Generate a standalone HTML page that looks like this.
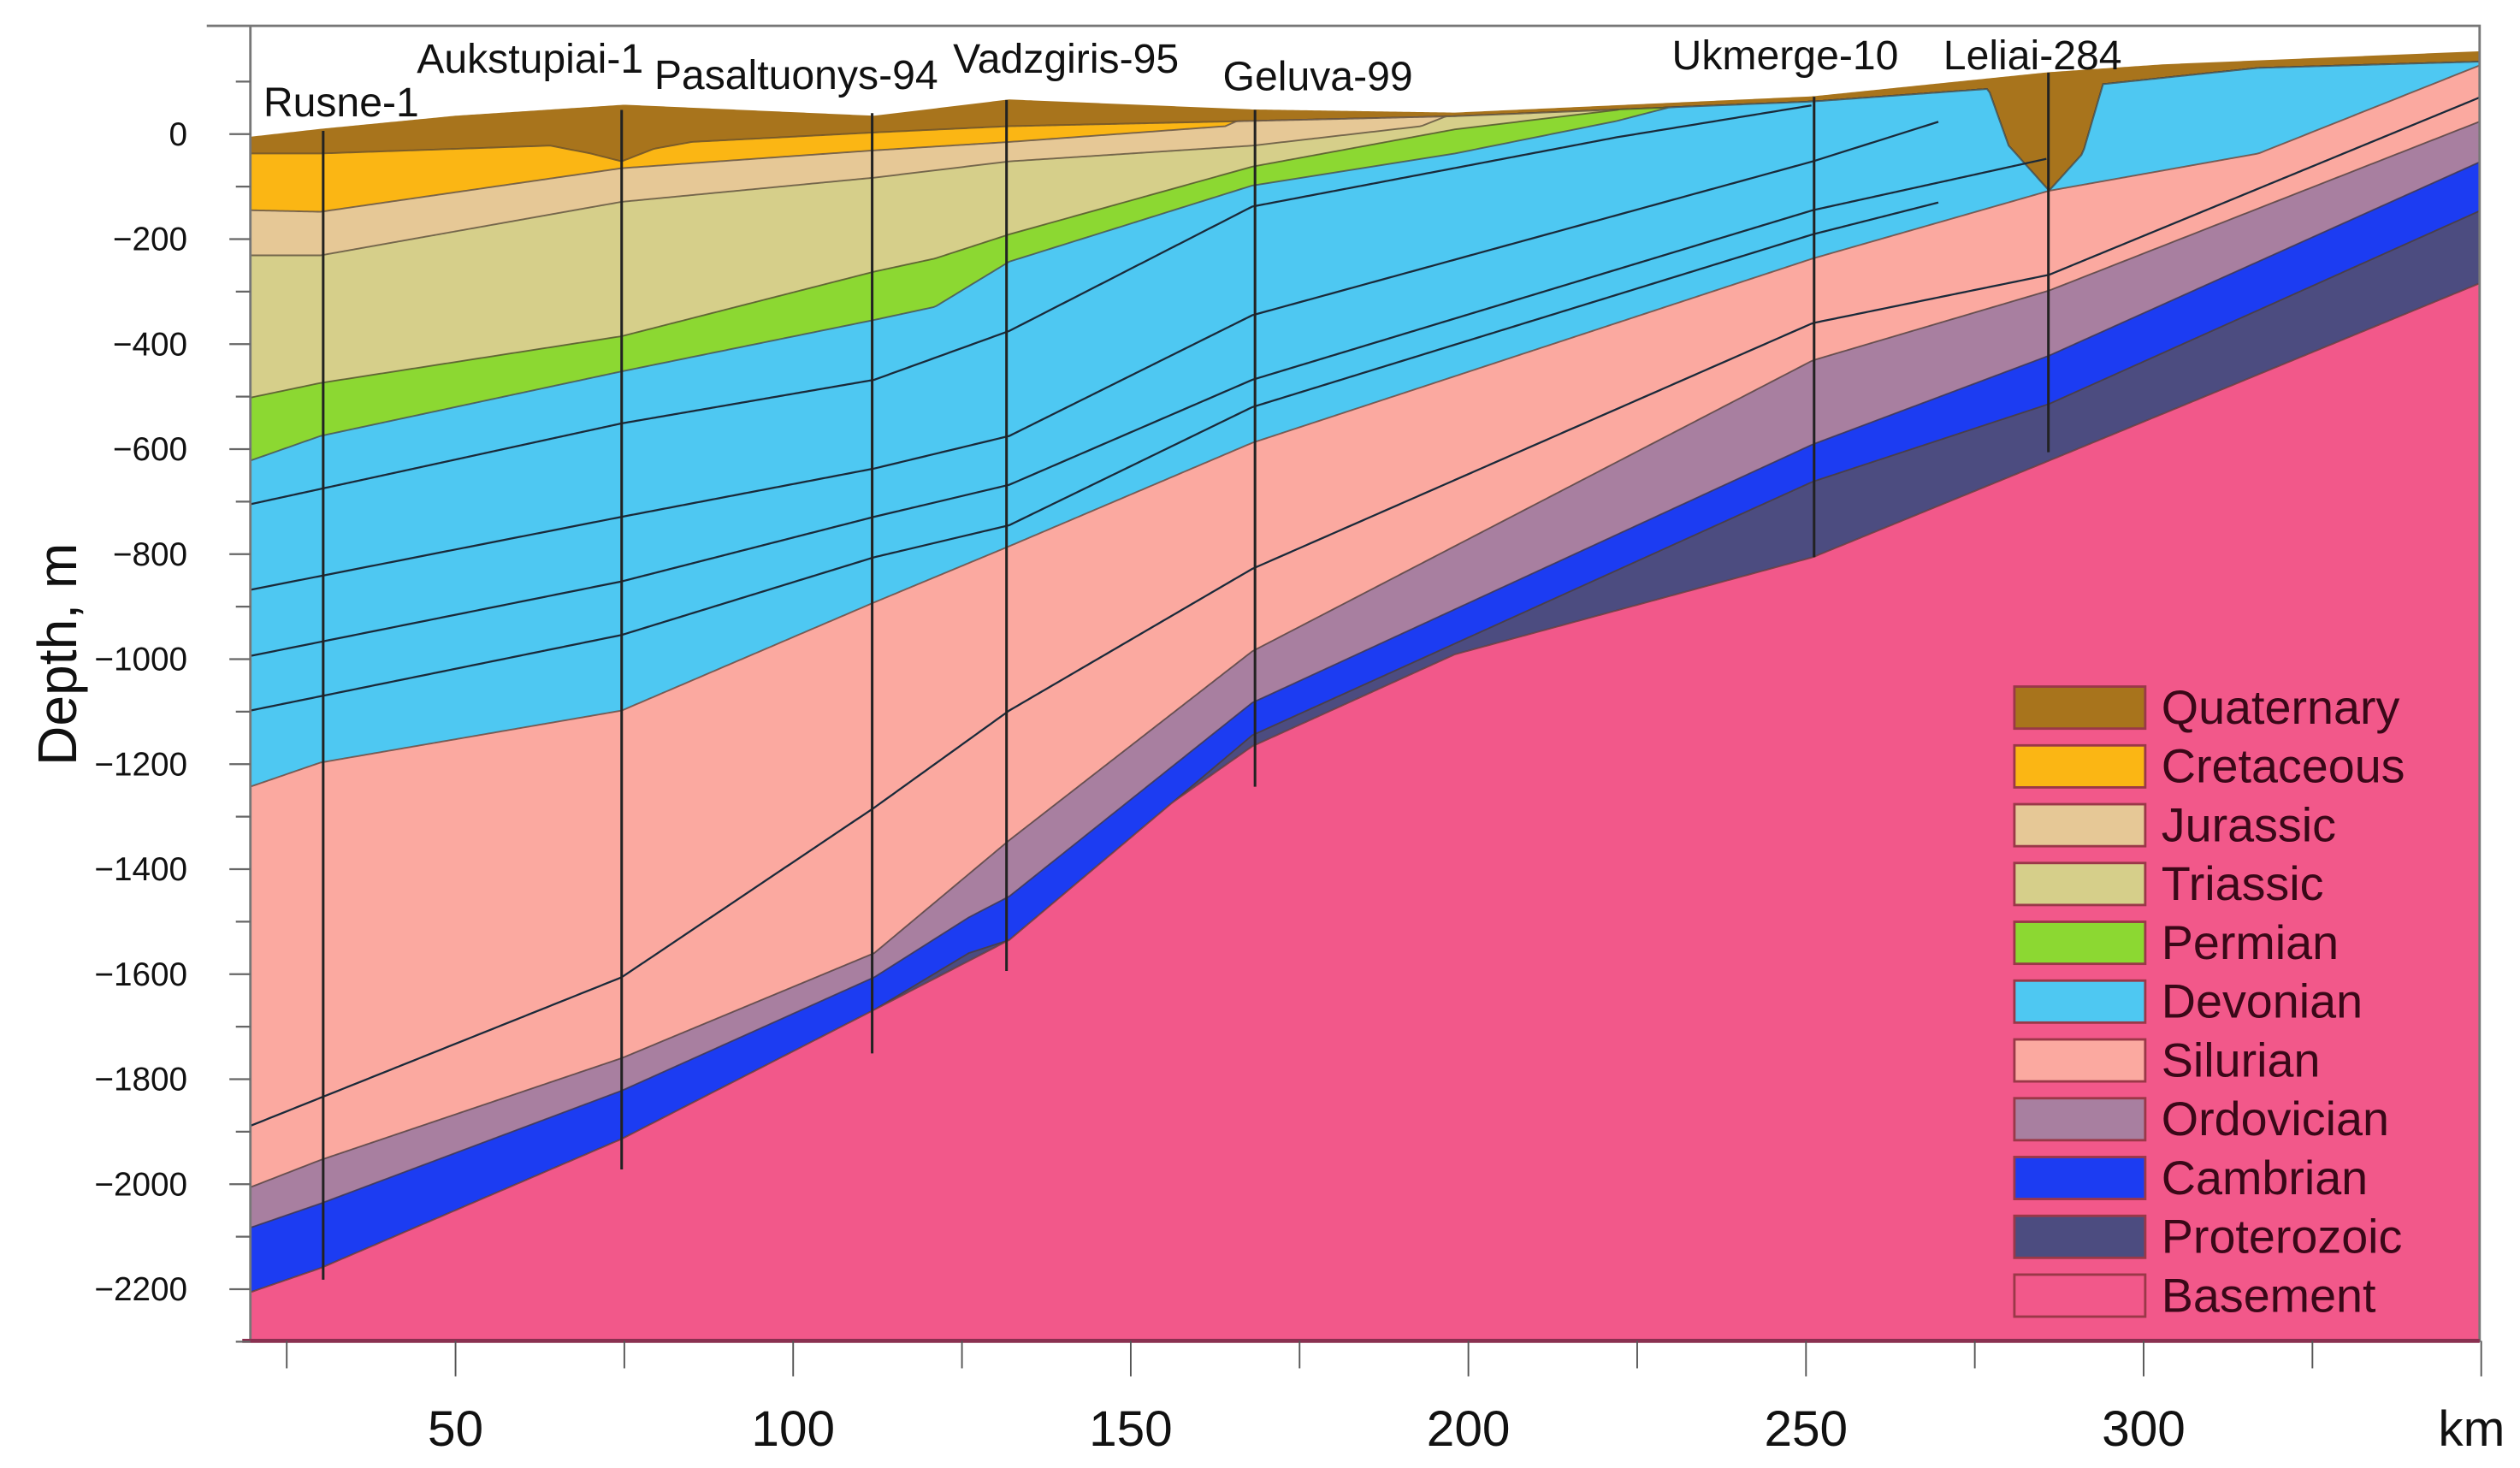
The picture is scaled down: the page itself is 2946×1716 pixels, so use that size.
<!DOCTYPE html>
<html><head><meta charset="utf-8"><style>
html,body{margin:0;padding:0;background:#fff;}
svg{display:block;}
text{font-family:"Liberation Sans",Arial,sans-serif;}
</style></head><body>
<svg id="chart" width="2946" height="1716" viewBox="0 0 1560 908.7" preserveAspectRatio="none" xmlns="http://www.w3.org/2000/svg">
<g id="layers"></g>
<g id="lines"></g>
<g id="wells"></g>
<g id="axes"></g>
<g id="legend"></g>
</svg>
<script>
// ---- data ----
const layerNames = ["Quaternary","Cretaceous","Jurassic","Triassic","Permian","Devonian","Silurian","Ordovician","Cambrian","Proterozoic","Basement"];
const layerColors = ["#a8741c","#fbb614","#e6c896","#d6cf8a","#8cd832","#4ec8f2","#fba9a0","#a87fa0","#1c3cf2","#4c4c80","#f2588a"];
// top boundary of each layer: km positions and depth (m)
const topKm = [
 [19.6,30,50,75,112,132,168,198,251,286,303,350],
 [19.6,30,64,70,74.6,79.4,85,112,132,168,198,251,277,280,286,291,294,317,350],
 [19.6,30,74.6,112,132,164,174,350],
 [19.6,30,74.6,112,132,168,193,210,350],
 [19.6,30,74.6,112,121,132,168,198,222,234,350],
 [19.6,30,74.6,112,121,132,168,198,222,234,350],
 [19.6,30,74.6,112,132,168,251,286,317,350],
 [19.6,30,74.6,112,132,168,251,286,350],
 [19.6,30,74.6,112,126,132,168,251,286,350],
 [19.6,30,74.6,112,126,132,168,251,286,350],
 [19.6,30,74.6,112,132,150,168,198,251,286,350]
];
const topDepth = [
 [-6,9,34,55,34,65,46,40,71,117,132,157],
 [-37,-37,-22,-37,-52,-28,-15,3,15,25,34,62,86,-22,-108,-37,95,126,138],
 [-145,-148,-65,-31,-15,15,71,500],
 [-231,-231,-129,-83,-52,-22,15,102,500],
 [-502,-474,-385,-262,-237,-191,-62,9,46,86,500],
 [-622,-575,-452,-354,-329,-243,-98,-37,25,65,500],
 [-1243,-1197,-1098,-892,-785,-588,-237,-108,-37,132],
 [-2006,-1954,-1760,-1560,-1345,-985,-431,-298,25],
 [-2083,-2037,-1822,-1606,-1492,-1452,-1083,-591,-422,-52],
 [-2206,-2160,-1914,-1668,-1560,-1535,-1145,-662,-514,-145],
 [-2206,-2160,-1914,-1668,-1535,-1329,-1166,-991,-806,-622,-283]
];
// internal horizons
const lineKm = [
 [19.6,74.6,112,132,168,222,251],
 [19.6,74.6,112,132,168,251,270],
 [19.6,74.6,112,132,168,251,286],
 [19.6,74.6,112,132,168,251,270],
 [19.6,74.6,112,132,168,251,286,350]
];
const lineDepth = [
 [-705,-551,-468,-375,-138,-6,55],
 [-868,-729,-637,-575,-345,-52,25],
 [-994,-852,-729,-668,-468,-145,-46],
 [-1098,-954,-806,-745,-520,-191,-129],
 [-1889,-1606,-1283,-1098,-828,-360,-268,71]
];
const wellNames = ["Rusne-1","Aukstupiai-1","Pasaltuonys-94","Vadzgiris-95","Geluva-99","Ukmerge-10","Leliai-284"];
const wellKm = [30.4,74.6,111.7,131.6,168.4,251.2,285.9];
const wellTop = [6,46,40,65,46,71,117];
const wellBottom = [-2182,-1972,-1751,-1594,-1243,-806,-606];
const yTicks = [0,-200,-400,-600,-800,-1000,-1200,-1400,-1600,-1800,-2000,-2200];
const xTicks = [50,100,150,200,250,300];
// ---- scales ----
const KM0=19.6, KM1=349.8, DBOT=-2298;
const X = km => 282 + (km-50)*4.18;
const Y = d => 83 - d*0.325;
const NS="http://www.w3.org/2000/svg";
function mk(tag, attrs, parent){const e=document.createElementNS(NS,tag);for(const k in attrs)e.setAttribute(k,attrs[k]);parent.appendChild(e);return e;}
function interp(xs,ys,x){if(x<=xs[0])return ys[0];if(x>=xs[xs.length-1])return ys[ys.length-1];
 for(let i=1;i<xs.length;i++){if(x<=xs[i]){const t=(x-xs[i-1])/(xs[i]-xs[i-1]);return ys[i-1]+t*(ys[i]-ys[i-1]);}}}
const grid=[];for(let k=KM0;k<KM1;k+=0.4)grid.push(k);grid.push(KM1);
const B=topKm.map((xs,i)=>grid.map(g=>interp(xs,topDepth[i],g)));
for(let i=1;i<B.length;i++)for(let j=0;j<grid.length;j++)B[i][j]=Math.min(B[i][j],B[i-1][j]);
const gL=document.getElementById('layers');
for(let i=0;i<B.length;i++){
 const top=B[i], bot=(i+1<B.length)?B[i+1]:grid.map(()=>DBOT);
 let d="M"+grid.map((g,j)=>X(g).toFixed(2)+","+Y(top[j]).toFixed(2)).join("L");
 for(let j=grid.length-1;j>=0;j--)d+="L"+X(grid[j]).toFixed(2)+","+Y(bot[j]).toFixed(2);
 d+="Z";
 const p=mk('path',{d:d,fill:layerColors[i],stroke:layerColors[i],'stroke-width':0.6},gL);
 
 
 if(i>0){const bl=mk('path',{d:"M"+grid.map((g,j)=>X(g).toFixed(2)+","+Y(top[j]).toFixed(2)).join("L"),fill:"none",stroke:"#4a3a30",'stroke-width':1,'stroke-opacity':0.7},gL);
 
 }
}
const gLn=document.getElementById('lines');
lineKm.forEach((xs,i)=>{
 const g2=grid.filter(g=>g>=xs[0]&&g<=xs[xs.length-1]);
 const p=mk('path',{d:"M"+g2.map(g=>X(g).toFixed(2)+","+Y(interp(xs,lineDepth[i],g)).toFixed(2)).join("L"),fill:"none",stroke:"#1a2a3a",'stroke-width':1.2},gLn);
 
 
});
const gW=document.getElementById('wells');
const labelPos=[[163,72],[258,45],[405,55],[590,45],[757,56],[1035,43],[1203,43]];
wellNames.forEach((n,i)=>{
 const l=mk('line',{x1:X(wellKm[i]),x2:X(wellKm[i]),y1:Y(wellTop[i]),y2:Y(wellBottom[i]),stroke:"#222",'stroke-width':1.6},gW);
 
 
 const t=mk('text',{x:labelPos[i][0],y:labelPos[i][1],'font-size':25.5,fill:"#111"},gW);
 t.textContent=n;
 
 
});
const gA=document.getElementById('axes');
const fr=mk('path',{d:"M128,16H1535V830H155V16",fill:"none",stroke:"#777",'stroke-width':1.5},gA);


const bl=mk('line',{x1:150,x2:1535,y1:830,y2:830,stroke:"#8a3050",'stroke-width':2.5},gA);


for(let d=100;d>=-2300;d-=100){
 const major=d%200===0;
 const t=mk('line',{x1:major?142:146,x2:155,y1:Y(d),y2:Y(d),stroke:"#666",'stroke-width':1.2},gA);
 
 
}
yTicks.forEach(v=>{
 const t=mk('text',{x:116,y:Y(v)+7,'font-size':20.5,'text-anchor':'end',fill:"#111"},gA);
 t.textContent=v===0?"0":"\u2212"+Math.abs(v);
 
 
});
for(let k=25;k<=350;k+=25){
 const major=k%50===0;
 const t=mk('line',{x1:X(k),x2:X(k),y1:830,y2:major?852:847,stroke:"#555",'stroke-width':1},gA);
 
 
}
xTicks.forEach(v=>{
 const t=mk('text',{x:X(v),y:895,'font-size':31,'text-anchor':'middle',fill:"#111"},gA);
 t.textContent=v;
 
 
});
const km=mk('text',{x:1530,y:895,'font-size':31,'text-anchor':'middle',fill:"#111"},gA);
km.textContent="km";


const yt=mk('text',{x:0,y:0,'font-size':34,'text-anchor':'middle',fill:"#111",transform:"translate(47,405) rotate(-90)"},gA);
yt.textContent="Depth, m";


const gG=document.getElementById('legend');
layerNames.forEach((n,i)=>{
 const cy=438+i*36.4;
 const r=mk('rect',{x:1247,y:cy-13,width:81,height:26,fill:layerColors[i],stroke:"#9a3848",'stroke-width':1.5},gG);
 
 
 const t=mk('text',{x:1338,y:cy+10,'font-size':29.5,fill:"#3a0818"},gG);
 t.textContent=n;
 
 
});
</script>
</body></html>
